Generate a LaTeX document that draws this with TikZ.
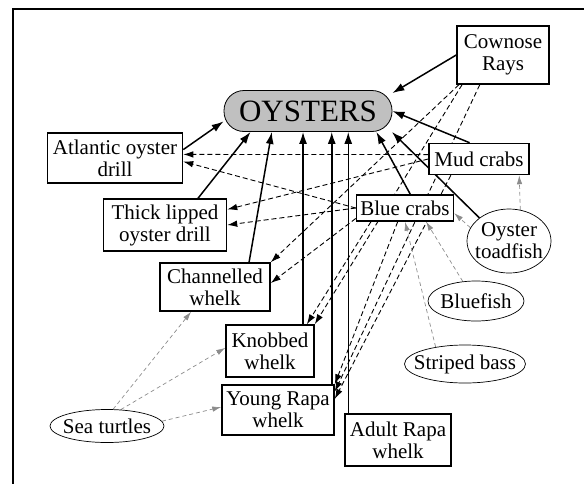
\documentclass[tikz,border=0pt]{standalone}
\usepackage{fontspec}
\setmainfont{Liberation Serif}
\usepackage{xcolor}
\usetikzlibrary{shapes.geometric,arrows.meta,backgrounds}
\definecolor{shellgray}{RGB}{192,192,192}
\definecolor{fishgray}{RGB}{140,140,140}

\begin{document}
\begin{tikzpicture}[x=1pt,y=-1pt,
  prey/.style={draw, rectangle, line width=1.5pt, fill=white, align=center, inner sep=0pt, font=\fontsize{21}{22}\selectfont},
  fish/.style={draw, ellipse, line width=0.7pt, fill=white, align=center, inner sep=-12pt, font=\fontsize{21}{22}\selectfont},
  eats/.style={-{Latex[length=12pt,width=8pt]}, line width=1.5pt},
  hunts/.style={-{Latex[length=10pt,width=6.5pt]}, line width=0.9pt, dash pattern=on 5pt off 3pt},
  feeds/.style={-{Latex[length=9pt,width=5.5pt]}, line width=0.7pt, fishgray, dash pattern=on 4pt off 3pt}]
\useasboundingbox (0,0) rectangle (584,483);
\draw[line width=2pt] (13,9) rectangle (600,500);

% Nodes
\node[prey, fill=shellgray, rounded corners=20pt, line width=0.8pt, minimum width=168pt, minimum height=41pt, font=\fontsize{31}{31}\selectfont] (oysters) at (308,111) {OYSTERS};
\node[prey, minimum width=135pt, minimum height=50pt] (atlantic) at (115,158) {Atlantic oyster\\drill};
\node[prey, minimum width=123pt, minimum height=52pt] (thick) at (165,225) {Thick lipped\\oyster drill};
\node[prey, minimum width=110pt, minimum height=48pt] (channelled) at (215,287) {Channelled\\whelk};
\node[prey, minimum width=88pt, minimum height=52pt] (knobbed) at (270,351) {Knobbed\\whelk};
\node[prey, minimum width=112pt, minimum height=50pt] (young) at (278,410) {Young Rapa\\whelk};
\node[prey, minimum width=106pt, minimum height=52pt] (adult) at (398,440) {Adult Rapa\\whelk};
\node[prey, minimum width=92pt, minimum height=58pt] (cownose) at (503,55) {Cownose\\Rays};
\node[prey, minimum width=100pt, minimum height=31pt] (mud) at (479,159) {Mud crabs};
\node[prey, minimum width=97pt, minimum height=26pt] (blue) at (405,208) {Blue crabs};
\node[fish, minimum width=84pt, minimum height=64pt] (toadfish) at (509,241) {Oyster\\toadfish};
\node[fish, minimum width=96pt, minimum height=40pt] (bluefish) at (476,301) {Bluefish};
\node[fish, minimum width=121pt, minimum height=38pt] (striped) at (465,364) {Striped bass};
\node[fish, minimum width=114pt, minimum height=33pt] (turtles) at (107,426) {Sea turtles};

\begin{pgfonlayer}{background}
% Arrows to oysters
\draw[eats] (atlantic.7) -- (oysters.187);
\draw[eats] (thick.39) -- (oysters.200);
\draw[eats] (channelled.36) -- (oysters.210);
\draw[eats] (knobbed.39) -- (knobbed.39 |- oysters.south);
\draw[eats] ([xshift=-3pt]young.north east) -- ([xshift=-3pt]young.north east |- oysters.south);
\draw[eats] ([xshift=4pt]adult.north west) -- ([xshift=4pt]adult.north west |- oysters.south);
\draw[eats] (blue.69) -- (oysters.343);
\draw[eats] (toadfish.142) -- (oysters.346);
\draw[eats] (mud.120) -- (oysters.east);
\draw[eats] (cownose.west) -- (oysters.12);

% Predators of drills and whelks
\draw[hunts] (mud.175) -- (atlantic.3);
\draw[hunts] (blue.west) -- (atlantic.357);
\draw[hunts] (mud.west) -- (thick.14);
\draw[hunts] (blue.west) -- (thick.east);
\draw[hunts] (blue.192) -- (channelled.4);
\draw[hunts] (cownose.214) -- (channelled.north east);
\draw[hunts] (blue.202) -- (knobbed.36);
\draw[hunts] (cownose.216) -- (knobbed.north east);
\draw[hunts] (blue.242) -- (young.north east);
\draw[hunts] (cownose.232) -- (young.18);
\draw[hunts] (mud.210) -- (young.11);

% Predators of crabs and whelks
\draw[feeds] (turtles.70) -- (channelled.226);
\draw[feeds] (turtles.50) -- (knobbed.176);
\draw[feeds] (turtles.5) -- (young.177);
\draw[feeds] (toadfish.70) -- (mud.338);
\draw[feeds] (toadfish.161) -- (blue.354);
\draw[feeds] (bluefish.124) -- (blue.327);
\draw[feeds] (striped.150) -- (blue.south);
\end{pgfonlayer}
\end{tikzpicture}
\end{document}
